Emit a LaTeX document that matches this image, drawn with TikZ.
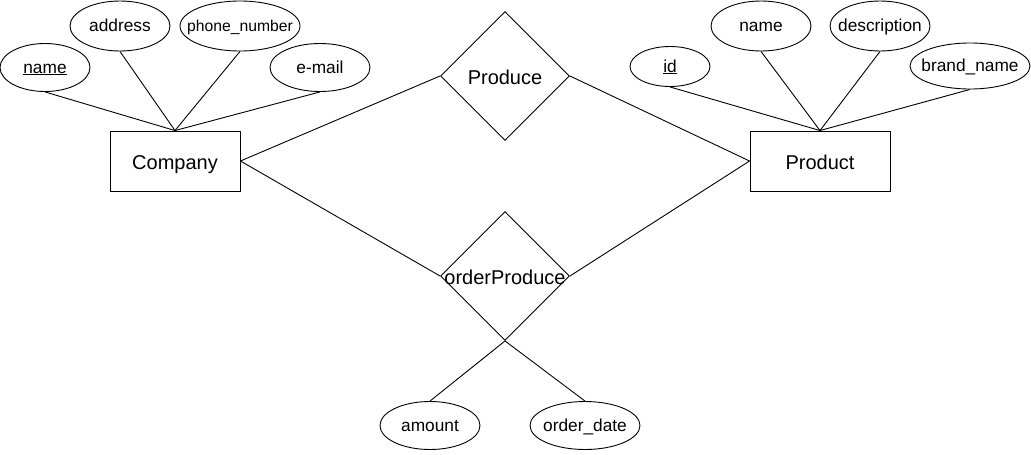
\documentclass[tikz,border=0pt]{standalone}
\usepackage{fontspec}
\setmainfont{Liberation Sans}
\usetikzlibrary{shapes.geometric}
\begin{document}
\begin{tikzpicture}[x=1pt,y=-1pt,line width=0.9pt,
  bigtxt/.style={inner sep=0pt, text height=19pt, text depth=2.6pt, font=\fontsize{20}{23}\selectfont},
  smalltxt/.style={inner sep=0pt, text height=15pt, text depth=4pt},
  ent/.style={draw, rectangle, minimum width=130pt, minimum height=60pt, bigtxt},
  rel/.style={draw, diamond, aspect=1, minimum size=129pt, inner sep=0pt, label={[bigtxt]center:#1}},
  attr/.style={draw, ellipse, inner sep=0pt, label={[smalltxt, font=\fontsize{17.3}{20}\selectfont]center:#1}},
  attrs/.style={draw, ellipse, inner sep=0pt, label={[smalltxt, font=\fontsize{15.7}{19}\selectfont]center:#1}},
]
\useasboundingbox (0,0) rectangle (1031,455);
% entities
\node[ent] (company) at (175,161) {Company};
\node[ent, minimum width=140pt] (product) at (820,161) {Product};
% relationships
\node[rel=Produce] (produce) at (505,76) {};
\node[rel=orderProduce] (order) at (505,276) {};
% company attributes
\node[attr=\underline{name}, minimum width=90pt, minimum height=48pt] (cname) at (45,67.5) {};
\node[attr=address, minimum width=100pt, minimum height=50pt] (address) at (120,26) {};
\node[attrs=phone\_number, minimum width=120pt, minimum height=50pt] (phone) at (240,26) {};
\node[attr=e-mail, minimum width=100pt, minimum height=48pt] (email) at (320,67.5) {};
% product attributes
\node[attr=\underline{id}, minimum width=80pt, minimum height=40pt] (pid) at (670,66.5) {};
\node[attr=name, minimum width=100pt, minimum height=50pt] (pname) at (761,26) {};
\node[attr=description, minimum width=100pt, minimum height=50pt] (desc) at (880,26) {};
\node[attr=brand\_name, minimum width=120pt, minimum height=46pt] (brand) at (970,66) {};
% relationship attributes
\node[attr=amount, minimum width=100pt, minimum height=48pt] (amount) at (430,425.5) {};
\node[attr=order\_date, minimum width=110pt, minimum height=48pt] (odate) at (585,425.5) {};
% connectors
\draw (cname.south) -- (company.north);
\draw (address.south) -- (company.north);
\draw (phone.south) -- (company.north);
\draw (email.south) -- (company.north);
\draw (pid.south) -- (product.north);
\draw (pname.south) -- (product.north);
\draw (desc.south) -- (product.north);
\draw (brand.south) -- (product.north);
\draw (company.east) -- (produce.west);
\draw (produce.east) -- (product.west);
\draw (company.east) -- (order.west);
\draw (order.east) -- (product.west);
\draw (order.south) -- (amount.north);
\draw (order.south) -- (odate.north);
\end{tikzpicture}
\end{document}
